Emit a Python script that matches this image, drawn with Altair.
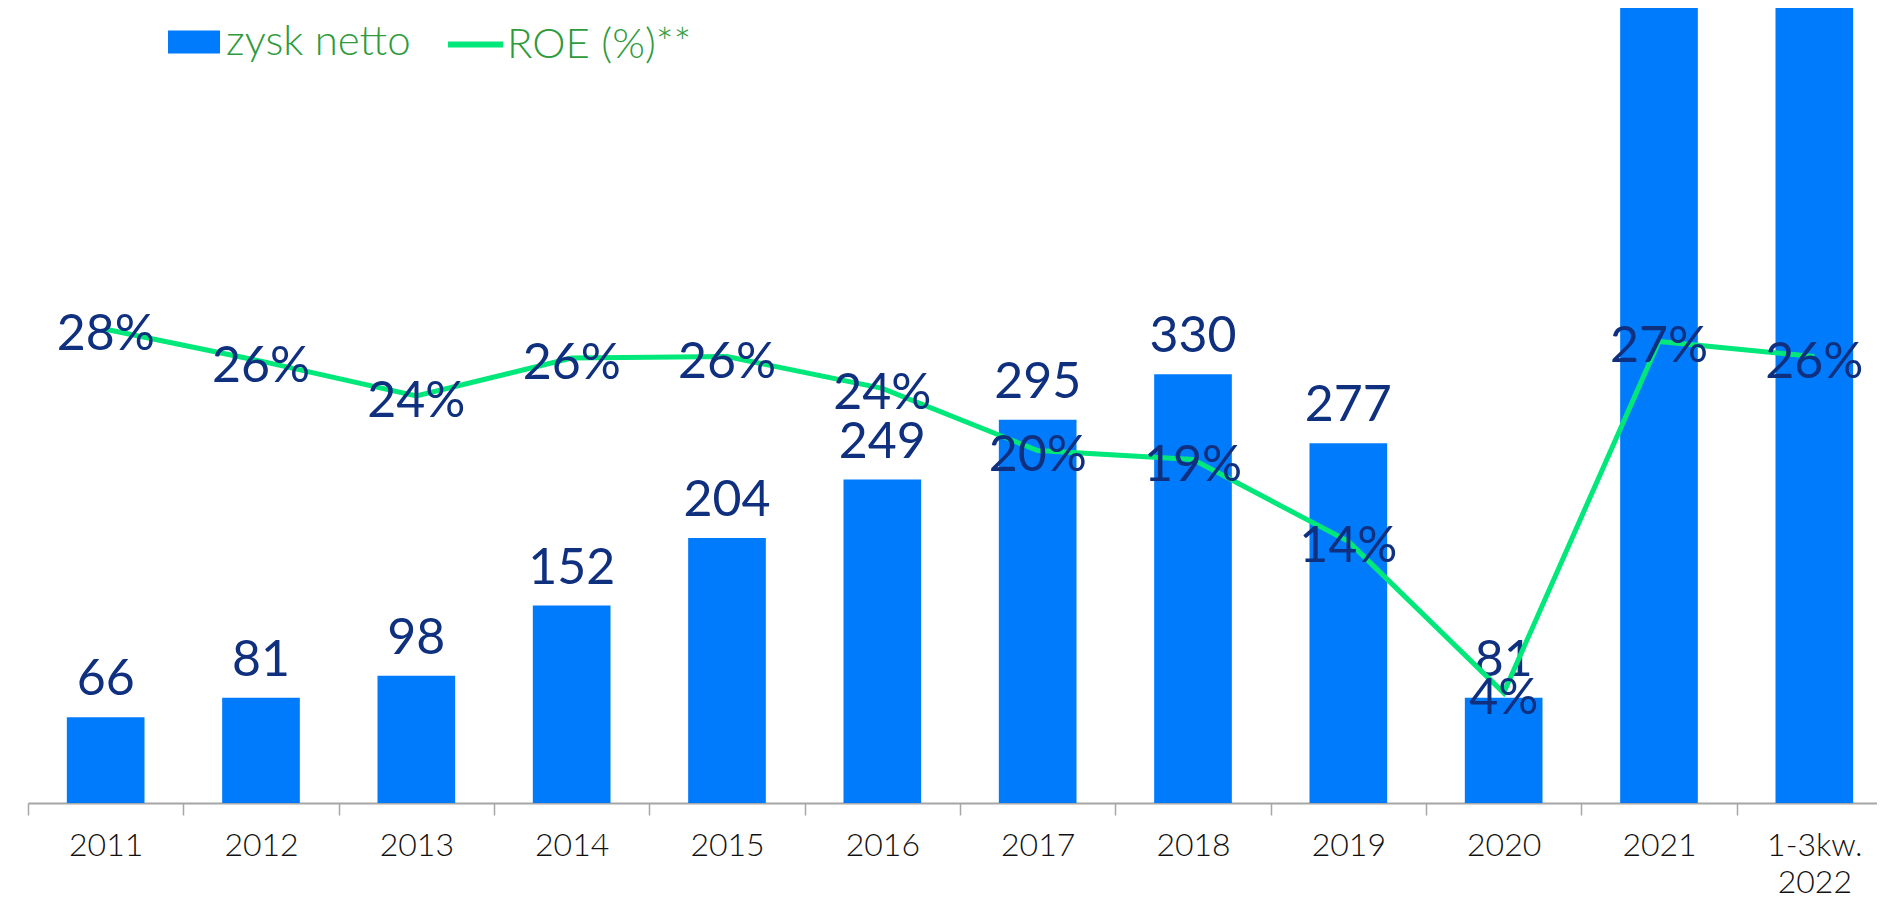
import altair as alt
import pandas as pd

categories = ["2011", "2012", "2013", "2014", "2015", "2016", "2017", "2018",
              "2019", "2020", "2021", "1-3kw.|2022"]
zysk_netto = [66, 81, 98, 152, 204, 249, 295, 330, 277, 81, 676, 640]
roe_pct = [28.0, 25.9, 23.6, 26.1, 26.2, 24.1, 20.0, 19.4, 14.0, 4.0, 27.2, 26.2]

Y_TOP = 612  # visible top of the profit axis (taller bars run off the chart)

df = pd.DataFrame({"rok": categories, "zysk": zysk_netto, "roe": roe_pct})
df["roe_frac"] = df["roe"] / 100.0
df["s_bar"] = "zysk netto"
df["s_line"] = "ROE (%)**"

NAVY = "#0F2F7F"
BLUE = "#007BFC"
GREEN_LINE = "#00E87A"
GREEN_TEXT = "#2E9B3C"
FONT = "Lato"

x_enc = alt.X(
    "rok:N", sort=categories,
    scale=alt.Scale(range=[0, 1864], paddingInner=0, paddingOuter=0),
    axis=alt.Axis(
        title=None, labelAngle=0, tickBand="extent",
        labelExpr="split(datum.label, '|')",
        labelFont=FONT, labelFontSize=32, labelFontWeight=300, labelColor="#111111",
        labelLineHeight=37, labelPadding=15,
        domainColor="#A6A6A6", domainWidth=2, tickColor="#A6A6A6", tickSize=12, tickWidth=1.5,
    ),
)

y_bar_scale = alt.Scale(domain=[0, Y_TOP], nice=False, zero=False)
y_roe_scale = alt.Scale(domain=[-3.27, 49.21], nice=False, zero=False)

base = alt.Chart(df)

bars = base.mark_bar(width=alt.RelativeBandSize(0.5), clip=True).encode(
    x=x_enc,
    y=alt.Y("zysk:Q", scale=y_bar_scale, axis=None),
    color=alt.Color(
        "s_bar:N", scale=alt.Scale(domain=["zysk netto"], range=[BLUE]),
        legend=alt.Legend(
            title=None, orient="none", legendX=140, legendY=8, padding=0,
            symbolType="M-1,-0.44H1V0.44H-1Z", symbolSize=2704, symbolStrokeWidth=0,
            symbolOpacity=1, labelLimit=600,
            labelFont=FONT, labelFontSize=42, labelFontWeight=300, labelColor=GREEN_TEXT,
            labelOffset=6,
        ),
    ),
)

line = base.mark_line(strokeWidth=5, clip=True).encode(
    x=x_enc,
    y=alt.Y("roe:Q", scale=y_roe_scale, axis=None),
    stroke=alt.Stroke(
        "s_line:N", scale=alt.Scale(domain=["ROE (%)**"], range=[GREEN_LINE]),
        legend=alt.Legend(
            title=None, orient="none", legendX=417, legendY=6, padding=0,
            symbolType="stroke", symbolSize=3025, symbolStrokeWidth=6, labelLimit=600,
            labelFont=FONT, labelFontSize=42, labelFontWeight=300, labelColor=GREEN_TEXT,
            labelOffset=1,
        ),
    ),
)

bar_labels = base.transform_filter(
    f"datum.zysk <= {Y_TOP - 60}"
).mark_text(
    dy=-22, baseline="alphabetic", fontSize=50, font=FONT, color=NAVY, clip=True
).encode(
    x=x_enc,
    y=alt.Y("zysk:Q", scale=y_bar_scale, axis=None),
    text=alt.Text("zysk:Q", format="d"),
)

roe_labels = base.mark_text(
    baseline="middle", dy=6, fontSize=50, font=FONT, color=NAVY, clip=True
).encode(
    x=x_enc,
    y=alt.Y("roe:Q", scale=y_roe_scale, axis=None),
    text=alt.Text("roe_frac:Q", format=".0%"),
)

left = alt.layer(bars, bar_labels)
right = alt.layer(line, roe_labels)

chart = alt.layer(left, right).resolve_scale(
    y="independent", color="independent", stroke="independent"
).properties(
    width=1849, height=795,
    autosize=alt.AutoSizeParams(type="none"),
    padding={"left": 20, "top": 0, "right": 0, "bottom": 95},
).configure_view(stroke=None)

chart.save("out.html", embed_options={"renderer": "svg", "actions": False})
